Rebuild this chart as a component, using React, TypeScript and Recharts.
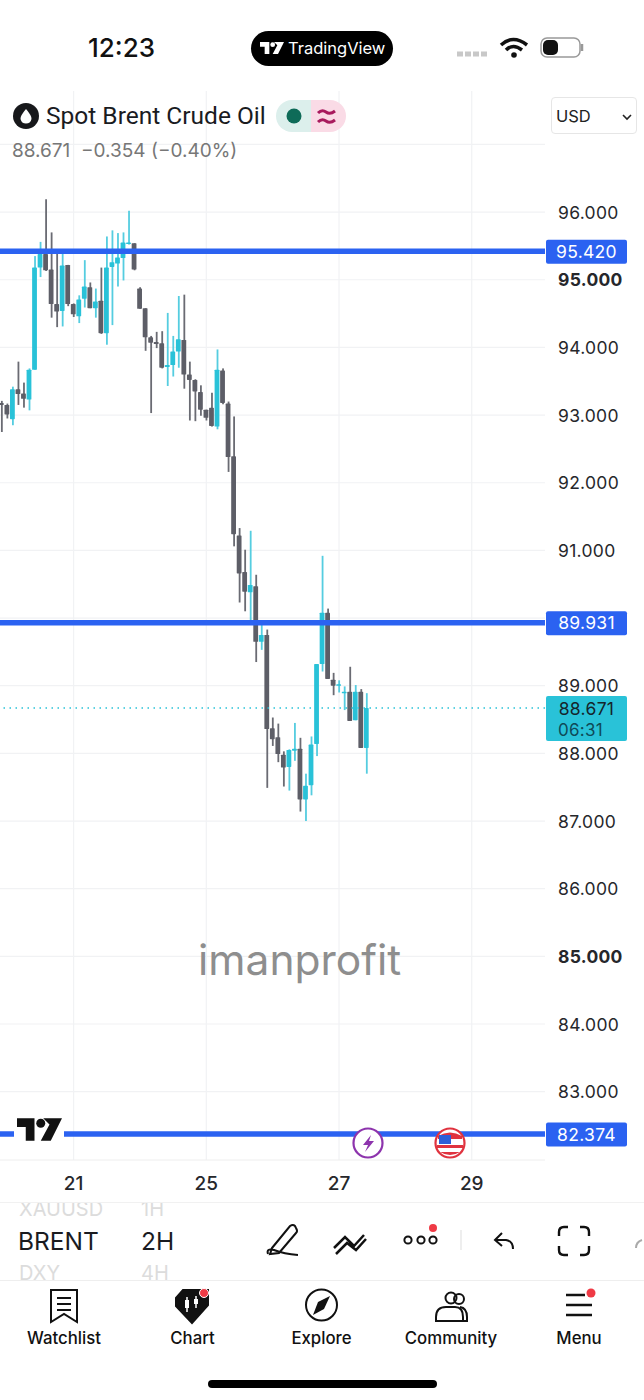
import React from 'react';
import {
  Bar,
  CartesianGrid,
  ComposedChart,
  ReferenceLine,
  XAxis,
  YAxis,
} from 'recharts';

// candle slots from left to right
const opens = [
  93.18, 93.15, 92.94, 93.38, 93.32, 93.23, 93.67, 95.18, 95.38, 95.15,
  94.64, 94.54, 95.22, 94.64, 94.46, 94.72, 94.89, 94.58, 94.69, 94.21,
  95.19, 95.24, 95.32, 95.53, 95.54, 94.87, 94.58, 94.15, 94.08, 94.06,
  93.71, 93.74, 93.94, 94.11, 93.60, 93.52, 93.34, 93.08, 93.11, 92.83,
  93.66, 93.17, 92.39, 91.22, 90.68, 90.38, 90.47, 89.65, 89.75, 88.37,
  88.24, 87.98, 87.80, 88.04, 88.07, 87.32, 87.53, 88.14, 89.32, 90.08,
  89.09, 89.01, 88.90, 88.91, 88.49, 88.91, 88.08,
];
const closes = [
  93.15, 93.01, 93.38, 93.31, 93.24, 93.67, 95.18, 95.38, 95.14, 94.64,
  94.53, 95.21, 94.64, 94.49, 94.71, 94.90, 94.58, 94.68, 94.21, 95.18,
  95.26, 95.33, 95.55, 95.55, 95.15, 94.57, 94.15, 94.07, 94.05, 93.70,
  93.74, 93.94, 94.12, 93.60, 93.52, 93.35, 93.08, 92.96, 92.84, 93.67,
  93.18, 92.38, 91.24, 90.66, 90.39, 90.49, 89.65, 89.75, 88.36, 88.21,
  87.99, 87.79, 88.05, 88.07, 87.32, 87.52, 88.13, 89.32, 90.08, 89.10,
  89.00, 89.02, 88.91, 88.48, 88.91, 88.08, 88.67,
];
const highs = [
  93.21, 93.17, 93.42, 93.79, 93.48, 93.69, 95.35, 95.56, 96.19, 95.70,
  95.39, 95.40, 95.22, 94.65, 94.77, 95.29, 94.96, 94.87, 95.18, 95.64,
  95.73, 95.69, 95.70, 96.02, 95.54, 94.89, 94.58, 94.17, 94.23, 94.24,
  94.51, 94.17, 94.76, 94.78, 93.79, 93.53, 93.44, 93.08, 93.33, 93.97,
  93.69, 93.20, 92.98, 91.33, 91.01, 91.29, 90.64, 89.95, 89.83, 88.53,
  88.44, 88.03, 88.06, 88.45, 88.23, 87.70, 88.25, 89.32, 90.92, 90.14,
  89.19, 89.08, 88.99, 89.28, 89.01, 88.95, 88.89,
];
const lows = [
  92.75, 92.95, 92.85, 93.15, 93.11, 93.07, 93.67, 95.04, 95.13, 94.44,
  94.30, 94.31, 94.61, 94.45, 94.36, 94.59, 94.58, 94.44, 94.20, 94.04,
  94.33, 94.90, 94.99, 95.52, 95.14, 94.57, 93.95, 93.03, 93.99, 93.69,
  93.43, 93.57, 93.70, 93.39, 92.92, 92.91, 92.99, 92.92, 92.83, 92.79,
  93.16, 92.16, 91.06, 90.23, 90.10, 89.90, 89.35, 89.53, 87.49, 88.11,
  87.87, 87.51, 87.45, 87.89, 87.14, 87.00, 87.38, 87.96, 89.21, 89.10,
  88.86, 88.90, 88.64, 88.48, 88.49, 88.08, 87.70,
];

const priceTicks = [83, 84, 85, 86, 87, 88, 89, 90, 91, 92, 93, 94, 95, 96, 97];
const boldPrices = [85, 95];
const hiddenPrices = [90, 97];
const timeTicks = [13, 37, 61, 85];
const timeLabels = ['21', '25', '27', '29'];
const levels = [95.42, 89.931, 82.374];
const lastPrice = 88.671;
const countdown = '06:31';

const UI_FONT = 'Inter, Roboto, sans-serif';
const TEAL = '#29c2d8';
const GRAY = '#5d5e67';
const BLUE = '#2b62f1';

const candles = opens.map((open, i) => ({
  slot: i,
  wick: [lows[i], highs[i]],
  body: [Math.min(open, closes[i]), Math.max(open, closes[i])],
  up: closes[i] >= open,
}));

const WickShape = (props: any) => {
  const { x, y, width, height, payload } = props;
  return (
    <rect
      x={x}
      y={y}
      width={width}
      height={Math.max(height, 1)}
      fill={payload.up ? '#55cde0' : '#6a6b73'}
    />
  );
};

const BodyShape = (props: any) => {
  const { x, y, width, height, payload } = props;
  return (
    <rect
      x={x}
      y={y}
      width={width}
      height={Math.max(height, 1.5)}
      rx={0.6}
      fill={payload.up ? TEAL : GRAY}
    />
  );
};

const PriceTick = (props: any) => {
  const { y, payload } = props;
  if (hiddenPrices.includes(payload.value)) return null;
  return (
    <text
      x={558}
      y={y + 6.5}
      fontFamily={UI_FONT}
      fontSize={17.5}
      letterSpacing={0.3}
      fontWeight={boldPrices.includes(payload.value) ? 700 : 400}
      fill="#26272b"
    >
      {payload.value.toFixed(3)}
    </text>
  );
};

const TimeTick = (props: any) => {
  const { x, payload } = props;
  return (
    <text
      x={x}
      y={1189.5}
      textAnchor="middle"
      fontFamily={UI_FONT}
      fontSize={19}
      fontWeight={500}
      fill="#26272b"
    >
      {timeLabels[timeTicks.indexOf(payload.value)]}
    </text>
  );
};

const LevelTag = ({ viewBox, value }: any) => (
  <g>
    <rect x={546} y={viewBox.y - 11.5} width={81} height={24} rx={2} fill={BLUE} />
    <text
      x={586.5}
      y={viewBox.y + 6.5}
      textAnchor="middle"
      fontFamily={UI_FONT}
      fontSize={17.5}
      letterSpacing={0.3}
      fill="#fff"
    >
      {value.toFixed(3)}
    </text>
  </g>
);

const LastPriceTag = ({ viewBox }: any) => (
  <g>
    <rect x={546} y={viewBox.y - 12} width={81} height={45} rx={2} fill={TEAL} />
    <text
      x={586.5}
      y={viewBox.y + 7}
      textAnchor="middle"
      fontFamily={UI_FONT}
      fontSize={17.5}
      letterSpacing={0.3}
      fill="#15252c"
    >
      {lastPrice.toFixed(3)}
    </text>
    <text
      x={558}
      y={viewBox.y + 28}
      fontFamily={UI_FONT}
      fontSize={17}
      letterSpacing={0.3}
      fill="#0f4a58"
    >
      {countdown}
    </text>
  </g>
);

const Label = ({ x, y, size, color = '#111', weight = 400, children, center, family }: any) => (
  <div
    style={{
      position: 'absolute',
      left: x,
      top: y,
      transform: center ? 'translate(-50%, -50%)' : 'translateY(-50%)',
      fontFamily: family || UI_FONT,
      fontSize: size,
      fontWeight: weight,
      color,
      whiteSpace: 'pre',
      lineHeight: 1,
    }}
  >
    {children}
  </div>
);

const Logo = ({ x, y, w, h, color }: any) => (
  <svg style={{ position: 'absolute', left: x, top: y }} width={w} height={h} viewBox="0 0 36 18">
    <path d="M0 0H14V18H7V7H0Z M21 0H36L27 18H19L26 5Z" fill={color} />
    <circle cx={19} cy={4} r={3.6} fill={color} />
  </svg>
);

const NavIcons = () => (
  <svg style={{ position: 'absolute', left: 0, top: 1200 }} width={644} height={140} fill="none" stroke="#111" strokeWidth={2}>
    {/* toolbar */}
    <path d="M272 48 L290 26 Q293 24 295 26 L296 28 Q298 31 296 33 L279 53 L270 54 Z" />
    <path d="M268 54 Q266 48 274 50 Q284 54 298 55" />
    <path d="M334 48 L345 37 L354 46 L364 35 M336 54 L347 43 L356 50 L366 39" strokeWidth={2.5} />
    <circle cx={408} cy={40} r={3.6} />
    <circle cx={421} cy={40} r={3.6} />
    <circle cx={433} cy={40} r={3.6} />
    <circle cx={433} cy={28} r={4} fill="#ef3a45" stroke="none" />
    <path d="M461 30V50" stroke="#eee" />
    <path d="M502 33 L495 40 L502 46 M495 40 H506 Q513 41 513 49" />
    <path d="M559 36V32Q559 27 564 27H568 M580 27H584Q589 27 589 32V36 M589 46V50Q589 55 584 55H580 M568 55H564Q559 55 559 50V46" strokeWidth={2.4} />
    <path d="M636 48Q636 42 642 40" stroke="#aaa" />
    {/* bottom nav */}
    <path d="M51 90H77V122L64 114L51 122Z" />
    <path d="M57 98H71M57 104H71M57 110H71" />
    <path d="M176 98L183 90H208V105L192 123L176 106Z" fill="#111" />
    <circle cx={204} cy={93} r={4.5} fill="#ef3a45" stroke="#fff" strokeWidth={1} />
    <path d="M187 97V112M196 96V108" stroke="#fff" strokeWidth={1.5} />
    <rect x={185} y={100} width={4} height={8} fill="#fff" stroke="none" />
    <rect x={194} y={99} width={4} height={5} fill="#fff" stroke="none" />
    <circle cx={321.5} cy={105} r={15.5} />
    <path d="M330 96 L324 109 L313 115 L318 102 Z" fill="#111" stroke="none" />
    <circle cx={451} cy={98} r={5.5} />
    <circle cx={459} cy={99} r={5} />
    <path d="M436 121V117Q436 107 446 107H455Q463 107 463 117V121Z" />
    <path d="M460 107Q467 108 467 117V121H463" />
    <path d="M566 95H585M566 105H592M566 115H592" strokeWidth={2.5} />
    <circle cx={591} cy={93} r={4.5} fill="#ef3a45" stroke="none" />
  </svg>
);

const ChromeOverlay = () => (
  <>
    {/* status bar */}
    <Label x={88} y={48} size={26} weight={500}>12:23</Label>
    <div style={{ position: 'absolute', left: 251, top: 31, width: 142, height: 35, borderRadius: 18, background: '#000' }} />
    <Logo x={260} y={41} w={24} h={14} color="#fff" />
    <Label x={288} y={48} size={16.5} color="#fff">TradingView</Label>
    <svg style={{ position: 'absolute', left: 455, top: 34 }} width={134} height={28}>
      <path d="M2 20H34" stroke="#c8c8c8" strokeWidth={5} strokeDasharray="6 2" />
      <path d="M46 11Q58 0 72 11" fill="none" stroke="#111" strokeWidth={3.5} />
      <path d="M51 16Q58 9 67 16" fill="none" stroke="#111" strokeWidth={3.5} />
      <circle cx={59} cy={21} r={2.8} fill="#111" />
      <rect x={86} y={4} width={39} height={19} rx={6} fill="#fff" stroke="#999" strokeWidth={1.5} />
      <rect x={88} y={6} width={15} height={15} rx={5} fill="#111" />
      <path d="M127 10V17" stroke="#999" strokeWidth={2.5} />
    </svg>

    {/* legend */}
    <svg style={{ position: 'absolute', left: 13, top: 103 }} width={26} height={26}>
      <circle cx={13} cy={13} r={13} fill="#17181b" />
      <path d="M13 6Q19 13 18.5 16Q17.5 20.5 13 20.5Q8.5 20.5 7.5 16Q7 13 13 6Z" fill="#fff" />
    </svg>
    <Label x={46} y={116} size={24.5} color="#1a1b1f" family="Roboto, sans-serif">Spot Brent Crude Oil</Label>
    <svg style={{ position: 'absolute', left: 276, top: 100 }} width={70} height={32}>
      <path d="M16 0H35V32H16A16 16 0 0 1 16 0Z" fill="#dcefec" />
      <path d="M35 0H54A16 16 0 0 1 54 32H35Z" fill="#fadbe6" />
      <circle cx={18} cy={16} r={7.5} fill="#0e6b58" />
      <path d="M42 13Q46 9 50 12T59 11M42 22Q46 18 50 21T59 20" fill="none" stroke="#a81a5d" strokeWidth={3} />
    </svg>
    <Label x={12} y={150} size={19} color="#777">88.671  −0.354 (−0.40%)</Label>
    <div style={{ position: 'absolute', left: 551, top: 97, width: 86, height: 37, border: '1px solid #e6e6e6', borderRadius: 4, boxSizing: 'border-box', background: '#fff' }} />
    <Label x={556} y={116} size={16.5} color="#222">USD</Label>
    <svg style={{ position: 'absolute', left: 622, top: 113 }} width={10} height={8}>
      <path d="M1 2L5 6L9 2" fill="none" stroke="#222" strokeWidth={1.6} />
    </svg>

    {/* watermark and logo */}
    <Label x={198} y={960} size={42.5} color="#8e8e8e">imanprofit</Label>
    <div style={{ position: 'absolute', left: 14, top: 1116, width: 50, height: 27, background: '#fff' }} />
    <Logo x={17} y={1118} w={45} h={23} color="#111" />

    {/* event markers */}
    <svg style={{ position: 'absolute', left: 350, top: 1124 }} width={120} height={38}>
      <circle cx={18} cy={19} r={14.5} fill="#fff" stroke="#8d34ad" strokeWidth={2.2} />
      <path d="M21 11L13 21H18L15 28L24 17H19Z" fill="#8d34ad" />
      <circle cx={100} cy={19} r={14.5} fill="#fff" stroke="#e0333f" strokeWidth={2.2} />
      <path d="M88 12Q100 5 112 12V15H88Z M87 21H113V24H87Z M90 28H110Q100 34 90 28Z" fill="#e0333f" />
      <rect x={89} y={11} width={12} height={9} fill="#2d5fd8" />
    </svg>

    {/* symbol and interval picker */}
    <div style={{ position: 'absolute', left: 0, top: 1202, width: 644, height: 1, background: '#f1f1f1' }} />
    <div style={{ position: 'absolute', left: 0, top: 1280, width: 644, height: 1, background: '#eeeeee' }} />
    <div style={{ position: 'absolute', left: 0, top: 1203, width: 240, height: 18, overflow: 'hidden' }}>
      <div style={{ position: 'absolute', left: 19, top: -6, width: 94, overflow: 'hidden', fontFamily: UI_FONT, fontSize: 20, color: '#dcdcdc', lineHeight: '24px' }}>XAUUSD</div>
      <div style={{ position: 'absolute', left: 141, top: -6, fontFamily: UI_FONT, fontSize: 20, color: '#dcdcdc', lineHeight: '24px' }}>1H</div>
    </div>
    <Label x={18} y={1241} size={24.5} color="#1a1b1f">BRENT</Label>
    <Label x={141} y={1241} size={24.5} color="#1a1b1f">2H</Label>
    <div style={{ position: 'absolute', left: 0, top: 1262, width: 240, height: 18, overflow: 'hidden' }}>
      <div style={{ position: 'absolute', left: 19, top: -1, fontFamily: UI_FONT, fontSize: 20, color: '#dcdcdc', lineHeight: '24px' }}>DXY</div>
      <div style={{ position: 'absolute', left: 141, top: -1, fontFamily: UI_FONT, fontSize: 20, color: '#dcdcdc', lineHeight: '24px' }}>4H</div>
    </div>

    <NavIcons />
    <Label x={64} y={1338} size={16.8} weight={500} center>Watchlist</Label>
    <Label x={192.5} y={1338} size={16.8} weight={500} center>Chart</Label>
    <Label x={321.5} y={1338} size={16.8} weight={500} center>Explore</Label>
    <Label x={451} y={1338} size={16.8} weight={500} center>Community</Label>
    <Label x={579} y={1338} size={16.8} weight={500} center>Menu</Label>
    <div style={{ position: 'absolute', left: 208, top: 1380, width: 229, height: 8, borderRadius: 4, background: '#000' }} />
  </>
);

const App: React.FC = () => {
  return (
    <div style={{ position: 'absolute', left: 0, top: 0, width: 644, height: 1400, overflow: 'hidden', background: '#fff' }}>
      <ComposedChart
        width={644}
        height={1200}
        data={candles}
        margin={{ top: 91, right: 0, bottom: 0, left: 0 }}
      >
        <CartesianGrid
          stroke="#f1f2f4"
          strokeWidth={1.2}
          horizontalValues={priceTicks}
          verticalValues={timeTicks}
        />
        <XAxis
          dataKey="slot"
          type="number"
          domain={[-0.31, 98.25]}
          ticks={timeTicks}
          height={40}
          tick={<TimeTick />}
          tickLine={false}
          axisLine={{ stroke: '#eeeeee' }}
          allowDataOverflow
        />
        <XAxis xAxisId="body" dataKey="slot" type="number" domain={[-0.31, 98.25]} hide allowDataOverflow />
        <YAxis
          orientation="right"
          width={99}
          domain={[81.99, 97.79]}
          ticks={priceTicks}
          interval={0}
          tick={<PriceTick />}
          tickLine={false}
          axisLine={false}
          allowDataOverflow
        />
        <Bar dataKey="wick" barSize={1.8} shape={<WickShape />} isAnimationActive={false} />
        <Bar xAxisId="body" dataKey="body" barSize={4.8} shape={<BodyShape />} isAnimationActive={false} />
        <ReferenceLine
          y={lastPrice}
          stroke={TEAL}
          strokeWidth={1.4}
          strokeDasharray="1.5 4.5"
          label={<LastPriceTag />}
        />
        {levels.map((level) => (
          <ReferenceLine
            key={level}
            y={level}
            stroke={BLUE}
            strokeWidth={5.5}
            label={<LevelTag value={level} />}
          />
        ))}
      </ComposedChart>
      <ChromeOverlay />
    </div>
  );
};

export default App;
